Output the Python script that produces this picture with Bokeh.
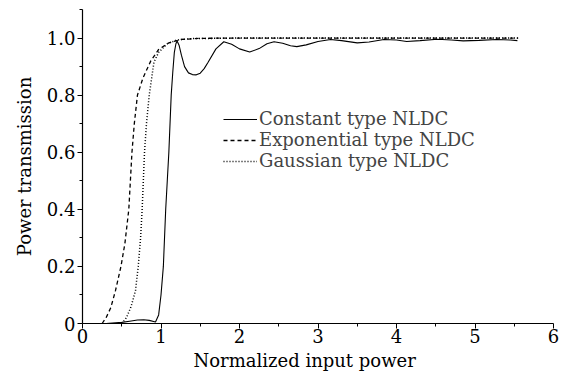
from bokeh.plotting import figure
from bokeh.models import Range1d, FixedTicker, Title
from bokeh.embed import file_html
from bokeh.resources import INLINE

# Constant type NLDC (solid)
const_x = [0.30, 0.50, 0.60, 0.70, 0.78, 0.85, 0.93, 0.97, 1.00, 1.03, 1.06, 1.08,
           1.10, 1.13, 1.15, 1.17, 1.19, 1.205, 1.23, 1.26, 1.30, 1.35, 1.40, 1.45,
           1.50, 1.55, 1.60, 1.70, 1.80, 1.90, 2.00, 2.13, 2.25, 2.35, 2.44, 2.55,
           2.65, 2.73, 2.85, 3.00, 3.16, 3.30, 3.50, 3.65, 3.84, 4.00, 4.13, 4.30,
           4.52, 4.70, 4.85, 5.05, 5.28, 5.45, 5.54]
const_y = [0.000, 0.004, 0.008, 0.012, 0.013, 0.011, 0.005, 0.030, 0.100, 0.200, 0.400, 0.500,
           0.600, 0.800, 0.880, 0.950, 0.980, 0.990, 0.975, 0.940, 0.900, 0.878, 0.872, 0.871,
           0.877, 0.893, 0.915, 0.962, 0.987, 0.978, 0.962, 0.951, 0.963, 0.980, 0.987, 0.982,
           0.973, 0.970, 0.976, 0.988, 0.995, 0.991, 0.983, 0.986, 0.995, 0.993, 0.988, 0.991,
           0.996, 0.993, 0.990, 0.992, 0.995, 0.993, 0.991]

# Exponential type NLDC (dashed)
exp_x = [0.25, 0.30, 0.36, 0.42, 0.49, 0.54, 0.59, 0.61, 0.63, 0.66, 0.70, 0.77,
         0.87, 0.97, 1.10, 1.25, 1.50, 2.00, 3.00, 4.00, 5.55]
exp_y = [0.000, 0.020, 0.055, 0.115, 0.200, 0.280, 0.400, 0.500, 0.600, 0.700, 0.800, 0.860,
         0.920, 0.960, 0.983, 0.995, 0.999, 1.000, 1.000, 1.000, 1.000]

# Gaussian type NLDC (dotted)
gauss_x = [0.50, 0.56, 0.62, 0.675, 0.71, 0.74, 0.76, 0.775, 0.79, 0.815, 0.85, 0.91,
           0.97, 1.08, 1.20, 1.40, 2.00, 3.00, 4.00, 5.55]
gauss_y = [0.000, 0.020, 0.060, 0.115, 0.200, 0.300, 0.400, 0.500, 0.600, 0.700, 0.800, 0.915,
           0.950, 0.980, 0.993, 0.998, 1.000, 1.000, 1.000, 1.000]

x_ticks = [0, 1, 2, 3, 4, 5, 6]
x_minor = [0.5, 1.5, 2.5, 3.5, 4.5, 5.5]
y_ticks = [0, 0.2, 0.4, 0.6, 0.8, 1.0]
y_tick_labels = ["0", "0.2", "0.4", "0.6", "0.8", "1.0"]
y_minor = [0.1, 0.3, 0.5, 0.7, 0.9, 1.1]

FONT = "DejaVu Serif"

p = figure(width=562, height=375, output_backend="svg", toolbar_location=None,
           x_range=Range1d(0, 6), y_range=Range1d(0, 1.1), title_location=None,
           min_border_left=82, min_border_right=9, min_border_top=9, min_border_bottom=52)

p.line(const_x, const_y, line_color="black", line_width=1.1, legend_label="Constant type NLDC")
p.line(exp_x, exp_y, line_color="black", line_width=1.3, line_dash="4 3",
       legend_label="Exponential type NLDC")
p.line(gauss_x, gauss_y, line_color="black", line_width=1.5, line_dash="1 2",
       legend_label="Gaussian type NLDC")

p.grid.visible = False
p.outline_line_color = None
p.background_fill_color = "white"

p.xaxis.ticker = FixedTicker(ticks=x_ticks, minor_ticks=x_minor)
p.yaxis.ticker = FixedTicker(ticks=y_ticks, minor_ticks=y_minor)
p.yaxis.major_label_overrides = {t: l for t, l in zip(y_ticks, y_tick_labels)}
p.yaxis.axis_label = "Power transmission"

for ax in (p.xaxis, p.yaxis):
    ax.axis_line_color = "black"
    ax.axis_line_width = 1.2
    ax.major_tick_line_color = "black"
    ax.minor_tick_line_color = "black"
    ax.major_tick_in = 0
    ax.major_tick_out = 5
    ax.minor_tick_in = 0
    ax.minor_tick_out = 3
    ax.major_label_text_font = FONT
    ax.major_label_text_font_size = "18px"
    ax.major_label_text_color = "black"
    ax.axis_label_text_font = FONT
    ax.axis_label_text_font_size = "18px"
    ax.axis_label_text_font_style = "normal"
    ax.axis_label_text_color = "black"
    ax.major_label_standoff = 2

p.xaxis.major_label_standoff = 0
p.yaxis.axis_label_standoff = 9

# x-axis title, placed slightly left of centre as in the reference
p.add_layout(Title(text="Normalized input power", align="left", offset=111,
                   text_font=FONT, text_font_size="18px", text_font_style="normal",
                   text_color="black", standoff=5), "below")

lg = p.legend[0]
lg.location = (141, 152)
lg.padding = 0
lg.margin = 0
lg.spacing = 0
lg.border_line_color = None
lg.background_fill_alpha = 0
lg.label_text_font = FONT
lg.label_text_font_size = "18px"
lg.label_standoff = 2
lg.glyph_width = 34
lg.glyph_height = 20
lg.label_height = 20

open("out.html", "w").write(file_html(p, INLINE))
